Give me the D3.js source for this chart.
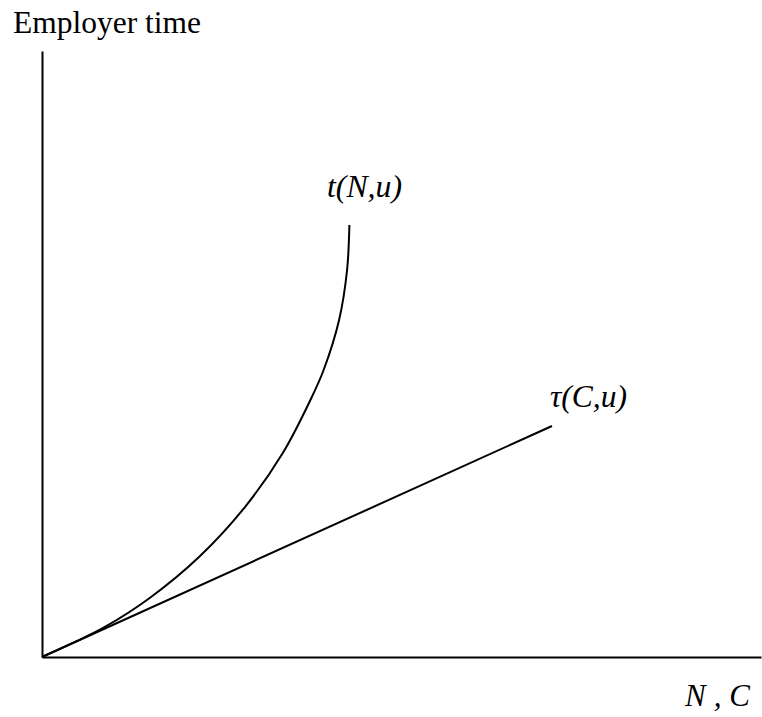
<!DOCTYPE html>
<html>
<head>
<meta charset="utf-8">
<script src="https://cdn.jsdelivr.net/npm/d3@7"></script>
<style>
  html, body { margin: 0; padding: 0; background: #fff; }
  svg { display: block; }
  text { font-family: "Liberation Serif", "Times New Roman", serif; fill: #000; }
</style>
</head>
<body>
<script>
// Curve t(N,u): N values and employer time values
const curveN = [0, 4.59, 8.62, 14.98, 21.91, 28.23, 33.49, 37.33, 39.17, 41.32, 42.43, 42.75];
const curveT = [0, 2.48, 4.87, 9.74, 16.58, 24.75, 33.66, 42.41, 47.36, 55.61, 63.86, 71.29];
// Line tau(C,u)
const lineC = [0, 70.93];
const lineTau = [0, 38.12];
// Labels
const yAxisTitle = "Employer time";
const xAxisTitle = "N , C";
const curveLabel = "t(N,u)";
const lineLabel = "τ(C,u)";

const W = 762, H = 717;
const svg = d3.select("body").append("svg").attr("width", W).attr("height", H);

const x = d3.scaleLinear().domain([0, 100]).range([42, 761]);
const y = d3.scaleLinear().domain([0, 100]).range([657, 51]);

const xAxis = d3.axisBottom(x).tickValues([]).tickSizeOuter(0);
const yAxis = d3.axisLeft(y).tickValues([]).tickSizeOuter(0);

svg.append("g").attr("transform", `translate(0,${y(0)})`).call(xAxis)
  .select(".domain").attr("stroke", "#000").attr("stroke-width", 2);
svg.append("g").attr("transform", `translate(${x(0)},0)`).call(yAxis)
  .select(".domain").attr("stroke", "#000").attr("stroke-width", 2);

const line = d3.line().x(d => x(d[0])).y(d => y(d[1])).curve(d3.curveCatmullRom.alpha(0.5));

svg.append("path")
  .datum(curveN.map((n, i) => [n, curveT[i]]))
  .attr("d", line)
  .attr("fill", "none").attr("stroke", "#000").attr("stroke-width", 2);

svg.append("path")
  .datum(lineC.map((c, i) => [c, lineTau[i]]))
  .attr("d", d3.line().x(d => x(d[0])).y(d => y(d[1])))
  .attr("fill", "none").attr("stroke", "#000").attr("stroke-width", 2);

svg.append("text").attr("x", 13).attr("y", 33)
  .attr("font-size", 31).attr("textLength", 188).attr("lengthAdjust", "spacingAndGlyphs")
  .text(yAxisTitle);

svg.append("text").attr("x", 685).attr("y", 706)
  .attr("font-size", 31).attr("font-style", "italic")
  .attr("textLength", 65).attr("lengthAdjust", "spacing")
  .text(xAxisTitle);

svg.append("text").attr("x", 327).attr("y", 197)
  .attr("font-size", 31).attr("font-style", "italic")
  .attr("textLength", 75).attr("lengthAdjust", "spacingAndGlyphs")
  .text(curveLabel);

svg.append("text").attr("x", 550).attr("y", 407)
  .attr("font-size", 31).attr("font-style", "italic")
  .attr("textLength", 77).attr("lengthAdjust", "spacingAndGlyphs")
  .text(lineLabel);
</script>
</body>
</html>
